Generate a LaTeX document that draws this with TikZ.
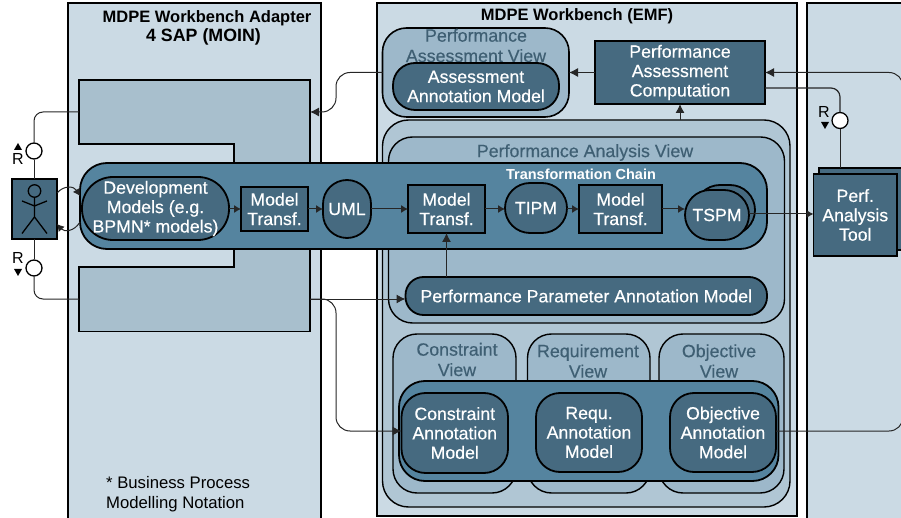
\documentclass[tikz,border=0pt]{standalone}
\usepackage{fontspec}
\setmainfont{Liberation Sans}
\newfontfamily\lab[FakeBold=0.4]{Liberation Sans}
\usetikzlibrary{arrows.meta}
\definecolor{panelc}{HTML}{CBDAE4}
\definecolor{sapc}{HTML}{A8BFCD}
\definecolor{outerc}{HTML}{B0C6D4}
\definecolor{viewc}{HTML}{9DB8CA}
\definecolor{bandc}{HTML}{55849F}
\definecolor{darkc}{HTML}{466A80}
\definecolor{titlec}{HTML}{3F5F73}
\tikzset{
  x=1pt,y=-1pt,
  box/.style={draw=black,line width=1.8pt,inner sep=0pt,outer sep=0pt,align=center},
  panel/.style={box,fill=panelc},
  viewbox/.style={box,fill=viewc,line width=1.4pt},
  model/.style={box,fill=darkc,text=white,font=\lab\fontsize{17.7}{19.4}\selectfont,execute at end node={\\[-17.4pt]\null}},
  shapeonly/.style={box,fill=darkc},
  band/.style={box,fill=bandc},
  titlet/.style={inner sep=0pt,align=center,text=titlec,font=\lab\fontsize{17.8}{20.4}\selectfont},
  headt/.style={inner sep=0pt,align=center,text=black,font=\bfseries\fontsize{16.5}{20}\selectfont},
  conn/.style={draw=black!85,line width=1pt},
  arr/.style={conn,-{Latex[length=9pt,width=9pt]}},
  arrs/.style={conn,-{Latex[length=7pt,width=8pt]}},
  round/.style={rounded corners=9pt},
}
\begin{document}
\begin{tikzpicture}
\useasboundingbox (0,0) rectangle (901,518);
% panels
\node[panel,minimum width=253pt,minimum height=525pt] (left) at (194.5,265.5) {};
\node[panel,minimum width=420pt,minimum height=513pt] (mid) at (587,259.5) {};
\node[panel,minimum width=110pt,minimum height=525pt] (right) at (862,265.5) {};
\clip (0,0) rectangle (901,518);
\node[headt] (t1) at (207,18) {MDPE Workbench Adapter};
\node[headt,font=\bfseries\fontsize{17.8}{20}\selectfont] (t1b) at (203.5,37) {4 SAP (MOIN)};
\node[headt] (t2) at (577,16) {MDPE Workbench (EMF)};
% SAP shape
\draw[box,fill=sapc] (79,80) -- (310,80) -- (310,331.5) -- (79,331.5) -- (79,267) -- (234,267) -- (234,144) -- (79,144) -- cycle;
\coordinate (sapin) at (310,112);
\coordinate (sapout) at (310,299);
\coordinate (sapul) at (79,112);
\coordinate (sapll) at (79,299);
% performance assessment view
\node[box,fill=viewc,rounded corners=24pt,line width=1.6pt,minimum width=186.5pt,minimum height=89pt] (pav) at (475.75,72.5) {};
\node[titlet] (pavt) at (476,45.5) {Performance\\Assessment View};
\node[model,rounded corners=22pt,minimum width=166pt,minimum height=47pt] (aam) at (476,86.5) {Assessment\\Annotation Model};
\node[model,minimum width=170pt,minimum height=63pt] (pac) at (680,72.5) {Performance\\Assessment\\Computation};
% outer
\node[box,fill=outerc,line width=1.4pt,rounded corners=26pt,minimum width=407.5pt,minimum height=387pt] (outer) at (586.25,313.5) {};
\node[viewbox,rounded corners=24pt,minimum width=396pt,minimum height=186pt] (pvw) at (586.5,230) {};
\node[titlet] (pvwt) at (585,152.5) {Performance Analysis View};
\node[model,rounded corners=18pt,minimum width=361.5pt,minimum height=38pt] (ppam) at (586.25,296) {Performance Parameter Annotation Model};
% lower views
\node[viewbox,rounded corners=24pt,minimum width=123pt,minimum height=159pt] (cv) at (454.5,413.5) {};
\node[viewbox,rounded corners=24pt,minimum width=122.5pt,minimum height=159pt] (rv) at (588.75,413.5) {};
\node[viewbox,rounded corners=24pt,minimum width=125pt,minimum height=159pt] (ov) at (721.5,413.5) {};
\node[titlet] (cvt) at (457,359.5) {Constraint\\View};
\node[titlet] (rvt) at (588,361) {Requirement\\View};
\node[titlet] (ovt) at (719,361) {Objective\\View};
\node[band,rounded corners=26pt,minimum width=379.5pt,minimum height=100pt] (lband) at (588.75,431) {};
\node[model,rounded corners=24pt,minimum width=106.5pt,minimum height=80pt] (cam) at (454.75,433) {Constraint\\Annotation\\Model};
\node[model,rounded corners=24pt,minimum width=106pt,minimum height=79pt] (ram) at (589,432.5) {Requ.\\Annotation\\Model};
\node[model,rounded corners=24pt,minimum width=106pt,minimum height=79pt] (oam) at (723,432.5) {Objective\\Annotation\\Model};
% tool
\node[shapeonly,minimum width=90pt,minimum height=82pt] (toolb) at (864,209) {};
\node[model,minimum width=83.5pt,minimum height=82pt] (tool) at (855.25,215) {Perf.\\Analysis\\Tool};
% chain
\node[band,rounded corners=27pt,minimum width=687pt,minimum height=86pt] (chain) at (423.5,206) {};
\node[inner sep=0pt,text=white,font=\bfseries\fontsize{14.5}{17}\selectfont] (chaint) at (581,174) {Transformation Chain};
\node[model,rounded corners=31pt,minimum width=147pt,minimum height=63pt] (dev) at (155.5,208.5) {Development\\Models (e.g.\\BPMN* models)};
\node[model,minimum width=67pt,minimum height=44pt] (mt1) at (274.5,209) {Model\\Transf.};
\node[model,rounded corners=24pt,minimum width=48pt,minimum height=58pt] (uml) at (347,209) {UML};
\node[model,minimum width=77pt,minimum height=48pt] (mt2) at (446.5,209) {Model\\Transf.};
\node[model,rounded corners=25pt,minimum width=62pt,minimum height=50pt] (tipm) at (536,208) {TIPM};
\node[model,minimum width=83pt,minimum height=48pt] (mt3) at (620.5,209) {Model\\Transf.};
\node[shapeonly,rounded corners=25pt,minimum width=60pt,minimum height=50pt] (tspmb) at (725,210) {};
\node[model,rounded corners=25pt,minimum width=64pt,minimum height=50pt] (tspm) at (717,215) {TSPM};
% actor
\node[shapeonly,minimum width=45pt,minimum height=60pt] (actor) at (34.5,209) {};
\node[draw=black,line width=1.3pt,circle,minimum size=12.5pt,inner sep=0pt] (head) at (34.5,191) {};
\draw[line width=1.3pt,line join=round] (head.south) -- (34.5,217) (22,201) -- (34.5,206) -- (47,201) (22,233.5) -- (34.5,217) -- (47,233.5);
% R interfaces
\node[draw=black,fill=white,line width=1.3pt,circle,minimum size=16pt,inner sep=0pt] (ru) at (34,151) {};
\node[draw=black,fill=white,line width=1.3pt,circle,minimum size=16pt,inner sep=0pt] (rl) at (34,268) {};
\node[draw=black,fill=white,line width=1.3pt,circle,minimum size=16pt,inner sep=0pt] (rr) at (840,120.5) {};
\node[inner sep=0pt,font=\fontsize{16}{16}\selectfont] (rut) at (18,159) {R};
\node[inner sep=0pt,font=\fontsize{16}{16}\selectfont] (rlt) at (18,258) {R};
\node[inner sep=0pt,font=\fontsize{16}{16}\selectfont] (rrt) at (824,112) {R};
\fill (18,143) -- (22,150) -- (14,150) -- cycle;
\fill (18,276) -- (22,269) -- (14,269) -- cycle;
\fill (825,129) -- (829,122) -- (821,122) -- cycle;
% connectors
\draw[conn,round] (sapul) -- (34,112) -- (ru.north);
\draw[conn] (ru.south) -- (34,179);
\draw[conn] (actor.south -| rl) -- (rl.north);
\draw[conn,round] (rl.south) -- (34,299) -- (sapll);
\draw[arrs] (57,193) .. controls (64,185) and (74,186) .. (80,196);
\draw[arrs] (80,222) .. controls (74,232) and (64,232) .. (57,224);
\draw[arrs] (dev.east |- mt1) -- (mt1.west);
\draw[arrs] (mt1) ++(33.5,0) -- (uml.west);
\draw[arrs] (uml.east) -- (mt2.west);
\draw[arrs] (mt2.east) -- (tipm.west |- mt2);
\draw[arrs] (tipm.east |- mt3) -- (mt3.west);
\draw[arrs] (mt3.east) -- (tspm.west |- mt3);
\coordinate (tsout) at (749,214);
\draw[arrs] (tsout) -- (tsout -| tool.west);
\draw[arr] (ppam.north -| mt2) -- (mt2.south);
\draw[arr] (pvw.north -| pac) ++(0,-17) -- (pac.south);
\draw[arr] (pac.west) -- (pav.east);
\draw[arr,rounded corners=14pt] (pav.west) -- (336,72.5) -- (336,112) -- (sapin);
\draw[arr] (sapout) -- (ppam.west |- sapout);
\draw[arr,rounded corners=14pt] (sapout) -- (336,299) -- (336,431) -- (cam.west |- 0,431);
\draw[arr,rounded corners=14pt] (oam.east |- 0,431) -- (903,431) -- (903,72.5) -- (pac.east);
\draw[conn,line width=1.2pt,round] (765,88) -- (840,88) -- (rr.north);
\draw[conn] (rr.south) -- (toolb.north -| rr);
% note
\node[inner sep=0pt,align=left,anchor=north west,font=\fontsize{16.7}{20}\selectfont] (note) at (106,476) {* Business Process\\Modelling Notation};
\end{tikzpicture}
\end{document}
